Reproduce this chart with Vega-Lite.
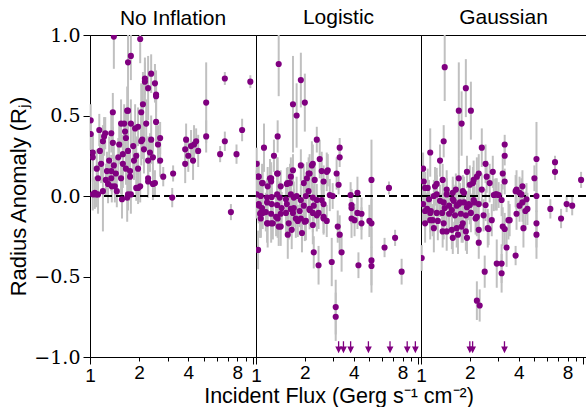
{
  "$schema": "https://vega.github.io/schema/vega-lite/v6.json",
  "padding": {"left": 7, "top": 6, "right": 0, "bottom": 0},
  "bounds": "flush",
  "spacing": 0,
  "config": {
    "view": {"stroke": "black", "strokeWidth": 1},
    "axis": {"grid": false, "domainColor": "black", "tickColor": "black", "labelColor": "black", "titleColor": "black", "titleFontWeight": "normal"},
    "title": {"font": "Liberation Sans", "fontSize": 21, "fontWeight": "normal", "color": "black"}
  },
  "datasets": {
    "noinf": [
      {"x":1.40,"y":0.99,"e":0.2},{"x":2.03,"y":0.975,"e":0.15},{"x":1.78,"y":0.87,"e":0.15},{"x":1.71,"y":0.83,"e":0.2},
      {"x":2.37,"y":0.76,"e":0.12},{"x":2.17,"y":0.73,"e":0.1},{"x":2.17,"y":0.71,"e":0.15},{"x":2.27,"y":0.67,"e":0.2},
      {"x":2.50,"y":0.70,"e":0.12},{"x":2.54,"y":0.63,"e":0.15},{"x":2.54,"y":0.62,"e":0.1},{"x":2.11,"y":0.57,"e":0.2},
      {"x":2.54,"y":0.46,"e":0.15},{"x":1.71,"y":0.53,"e":0.15},{"x":1.38,"y":0.52,"e":0.12},{"x":2.06,"y":0.52,"e":0.18},
      {"x":5.15,"y":0.58,"e":0.25},{"x":6.7,"y":0.73,"e":0.04},{"x":9.6,"y":0.71,"e":0.04},{"x":8.55,"y":0.41,"e":0.07},
      {"x":6.7,"y":0.34,"e":0.06},{"x":5.15,"y":0.37,"e":0.1},{"x":3.88,"y":0.35,"e":0.1},{"x":4.34,"y":0.32,"e":0.12},
      {"x":4.47,"y":0.34,"e":0.08},{"x":4.16,"y":0.31,"e":0.1},{"x":3.83,"y":0.29,"e":0.08},{"x":4.0,"y":0.25,"e":0.1},
      {"x":3.83,"y":0.20,"e":0.12},{"x":4.6,"y":0.28,"e":0.1},{"x":4.28,"y":0.22,"e":0.12},{"x":6.27,"y":0.26,"e":0.05},
      {"x":7.9,"y":0.26,"e":0.06},{"x":3.23,"y":0.14,"e":0.05},{"x":2.81,"y":0.12,"e":0.06},{"x":3.19,"y":-0.01,"e":0.06},
      {"x":7.3,"y":-0.10,"e":0.05},{"x":1.92,"y":0.05,"e":0.08},{"x":1.57,"y":-0.02,"e":0.12},{"x":1.69,"y":-0.01,"e":0.15},
      {"x":1.78,"y":0.01,"e":0.12},{"x":1.20,"y":0.03,"e":0.25},{"x":1.04,"y":0.01,"e":0.1},{"x":1.09,"y":0.01,"e":0.08},
      {"x":2.27,"y":0.09,"e":0.1},{"x":2.43,"y":0.075,"e":0.1},{"x":1.01,"y":0.47,"e":0.1},{"x":1.01,"y":0.385,"e":0.1},
      {"x":1.04,"y":0.27,"e":0.12},{"x":1.04,"y":0.24,"e":0.15},{"x":1.07,"y":0.02,"e":0.1},{"x":1.12,"y":0.01,"e":0.12},
      {"x":1.14,"y":0.41,"e":0.1},{"x":1.10,"y":0.17,"e":0.12},{"x":1.12,"y":0.11,"e":0.1},{"x":1.17,"y":0.20,"e":0.12},
      {"x":1.20,"y":0.34,"e":0.1},{"x":1.22,"y":0.37,"e":0.12},{"x":1.24,"y":0.39,"e":0.1},{"x":1.25,"y":0.10,"e":0.1},
      {"x":1.27,"y":0.155,"e":0.12},{"x":1.31,"y":0.22,"e":0.15},{"x":1.35,"y":0.155,"e":0.1},{"x":1.35,"y":0.39,"e":0.12},
      {"x":1.38,"y":0.33,"e":0.1},{"x":1.40,"y":0.19,"e":0.12},{"x":1.35,"y":0.11,"e":0.08},{"x":1.36,"y":0.06,"e":0.1},
      {"x":1.42,"y":0.06,"e":0.1},{"x":1.44,"y":0.14,"e":0.1},{"x":1.49,"y":0.24,"e":0.12},{"x":1.55,"y":0.45,"e":0.15},
      {"x":1.62,"y":0.45,"e":0.12},{"x":1.59,"y":0.26,"e":0.12},{"x":1.55,"y":0.11,"e":0.1},{"x":1.59,"y":0.20,"e":0.15},
      {"x":1.64,"y":0.40,"e":0.12},{"x":1.66,"y":0.36,"e":0.15},{"x":1.69,"y":0.53,"e":0.15},{"x":1.71,"y":0.28,"e":0.15},
      {"x":1.66,"y":0.17,"e":0.1},{"x":1.76,"y":0.155,"e":0.12},{"x":1.78,"y":0.45,"e":0.15},{"x":1.84,"y":0.31,"e":0.15},
      {"x":1.89,"y":0.42,"e":0.15},{"x":1.97,"y":0.43,"e":0.12},{"x":1.92,"y":0.25,"e":0.12},{"x":1.97,"y":0.17,"e":0.1},
      {"x":2.03,"y":0.06,"e":0.1},{"x":2.06,"y":0.34,"e":0.15},{"x":2.09,"y":0.35,"e":0.12},{"x":2.14,"y":0.29,"e":0.15},
      {"x":2.21,"y":0.45,"e":0.15},{"x":2.27,"y":0.22,"e":0.15},{"x":2.33,"y":0.27,"e":0.12},{"x":2.37,"y":0.35,"e":0.15},
      {"x":2.43,"y":0.24,"e":0.12},{"x":2.27,"y":0.11,"e":0.1},{"x":2.50,"y":0.08,"e":0.08},{"x":2.61,"y":0.32,"e":0.12},
      {"x":2.69,"y":0.36,"e":0.1},{"x":2.69,"y":0.22,"e":0.1},{"x":1.29,"y":0.075,"e":0.12},{"x":1.71,"y":0.01,"e":0.1},
      {"x":1.97,"y":0.05,"e":0.1},{"x":1.76,"y":0.12,"e":0.15},{"x":1.46,"y":0.03,"e":0.1},{"x":1.15,"y":0.28,"e":0.12},
      {"x":1.51,"y":0.32,"e":0.12},{"x":1.86,"y":0.22,"e":0.12}
    ],
    "logi": [
      {"x":1.38,"y":0.82,"e":0.2},{"x":1.89,"y":0.72,"e":0.17},{"x":1.69,"y":0.57,"e":0.3},{"x":2.00,"y":0.58,"e":0.18},
      {"x":1.78,"y":0.50,"e":0.2},{"x":1.36,"y":0.37,"e":0.1},{"x":1.12,"y":0.30,"e":0.15},{"x":2.37,"y":0.35,"e":0.08},
      {"x":3.28,"y":0.30,"e":0.06},{"x":3.28,"y":0.24,"e":0.06},{"x":1.29,"y":0.25,"e":0.1},{"x":2.47,"y":0.23,"e":0.12},
      {"x":1.89,"y":0.19,"e":0.1},{"x":2.24,"y":0.20,"e":0.12},{"x":1.69,"y":0.16,"e":0.1},{"x":2.54,"y":0.155,"e":0.12},
      {"x":2.77,"y":0.16,"e":0.1},{"x":3.14,"y":0.14,"e":0.1},{"x":5.15,"y":0.10,"e":0.25},{"x":6.6,"y":0.05,"e":0.04},
      {"x":1.36,"y":0.14,"e":0.1},{"x":1.24,"y":0.11,"e":0.1},{"x":1.03,"y":0.12,"e":0.08},{"x":1.01,"y":0.20,"e":0.1},
      {"x":1.64,"y":0.12,"e":0.12},{"x":2.06,"y":0.11,"e":0.1},{"x":2.14,"y":0.14,"e":0.12},{"x":2.61,"y":0.09,"e":0.1},
      {"x":3.23,"y":0.07,"e":0.06},{"x":1.18,"y":0.06,"e":0.12},{"x":1.42,"y":0.06,"e":0.1},{"x":1.57,"y":0.08,"e":0.1},
      {"x":3.83,"y":0.006,"e":0.08},{"x":4.22,"y":0.02,"e":0.1},{"x":1.09,"y":0.08,"e":0.12},{"x":2.85,"y":0.006,"e":0.1},
      {"x":2.97,"y":0.0,"e":0.08},{"x":3.88,"y":-0.056,"e":0.1},{"x":3.88,"y":-0.075,"e":0.1},{"x":4.22,"y":-0.105,"e":0.1},
      {"x":4.47,"y":-0.11,"e":0.1},{"x":3.88,"y":-0.14,"e":0.12},{"x":4.05,"y":-0.15,"e":0.1},{"x":4.47,"y":-0.17,"e":0.1},
      {"x":5.0,"y":-0.155,"e":0.1},{"x":5.15,"y":-0.17,"e":0.15},{"x":3.19,"y":-0.19,"e":0.1},{"x":3.28,"y":-0.24,"e":0.12},
      {"x":3.37,"y":-0.35,"e":0.12},{"x":2.93,"y":-0.41,"e":0.15},{"x":2.27,"y":-0.35,"e":0.1},{"x":2.43,"y":-0.43,"e":0.12},
      {"x":3.10,"y":-0.69,"e":0.17},{"x":3.10,"y":-0.75,"e":0.15},{"x":4.28,"y":-0.43,"e":0.08},{"x":5.15,"y":-0.40,"e":0.2},
      {"x":5.15,"y":-0.435,"e":0.12},{"x":6.2,"y":-0.32,"e":0.06},{"x":7.2,"y":-0.26,"e":0.05},{"x":7.9,"y":-0.47,"e":0.08},
      {"x":1.03,"y":-0.335,"e":0.12},{"x":1.92,"y":-0.23,"e":0.12},{"x":2.24,"y":-0.18,"e":0.12},{"x":1.57,"y":-0.24,"e":0.15},
      {"x":1.38,"y":-0.19,"e":0.12},{"x":1.18,"y":-0.17,"e":0.15},{"x":1.24,"y":-0.17,"e":0.12},{"x":1.06,"y":-0.11,"e":0.15},
      {"x":1.10,"y":-0.105,"e":0.1},{"x":1.66,"y":-0.21,"e":0.12},{"x":1.81,"y":-0.155,"e":0.1},{"x":2.00,"y":-0.16,"e":0.12},
      {"x":2.61,"y":-0.13,"e":0.1},{"x":2.73,"y":-0.155,"e":0.1},{"x":2.14,"y":-0.087,"e":0.12},{"x":2.37,"y":-0.12,"e":0.1},
      {"x":1.36,"y":-0.14,"e":0.12},{"x":1.04,"y":-0.05,"e":0.12},{"x":1.04,"y":0.12,"e":0.1},{"x":1.10,"y":0.08,"e":0.1},
      {"x":1.22,"y":0.11,"e":0.12},{"x":1.24,"y":0.09,"e":0.1},{"x":1.35,"y":0.14,"e":0.1},{"x":1.55,"y":0.075,"e":0.1},
      {"x":1.62,"y":0.08,"e":0.12},{"x":1.97,"y":0.08,"e":0.12},{"x":2.11,"y":0.14,"e":0.1},{"x":2.21,"y":0.19,"e":0.15},
      {"x":2.30,"y":0.10,"e":0.1},{"x":2.73,"y":0.15,"e":0.12},{"x":1.01,"y":0.01,"e":0.15},{"x":1.07,"y":0.0,"e":0.1},
      {"x":1.17,"y":-0.01,"e":0.12},{"x":1.25,"y":-0.006,"e":0.1},{"x":1.35,"y":0.01,"e":0.12},{"x":1.40,"y":-0.01,"e":0.1},
      {"x":1.53,"y":-0.02,"e":0.12},{"x":1.64,"y":0.01,"e":0.12},{"x":1.71,"y":-0.01,"e":0.1},{"x":1.78,"y":0.0,"e":0.12},
      {"x":1.89,"y":-0.025,"e":0.1},{"x":2.03,"y":0.0,"e":0.1},{"x":2.11,"y":0.03,"e":0.12},{"x":2.24,"y":-0.01,"e":0.1},
      {"x":2.37,"y":-0.025,"e":0.1},{"x":2.54,"y":-0.025,"e":0.12},{"x":1.04,"y":-0.06,"e":0.1},{"x":1.09,"y":-0.075,"e":0.12},
      {"x":1.17,"y":-0.04,"e":0.1},{"x":1.25,"y":-0.05,"e":0.1},{"x":1.35,"y":-0.056,"e":0.12},{"x":1.44,"y":-0.075,"e":0.1},
      {"x":1.55,"y":-0.05,"e":0.12},{"x":1.64,"y":-0.08,"e":0.1},{"x":1.71,"y":-0.075,"e":0.12},{"x":1.86,"y":-0.093,"e":0.1},
      {"x":1.97,"y":-0.06,"e":0.12},{"x":2.14,"y":-0.08,"e":0.1},{"x":2.27,"y":-0.06,"e":0.12},{"x":2.43,"y":-0.105,"e":0.1},
      {"x":2.61,"y":-0.05,"e":0.12},{"x":1.07,"y":-0.105,"e":0.15},{"x":1.15,"y":-0.10,"e":0.12},{"x":1.24,"y":-0.11,"e":0.1},
      {"x":1.33,"y":-0.13,"e":0.12},{"x":1.42,"y":-0.11,"e":0.1},{"x":1.53,"y":-0.105,"e":0.12},{"x":1.69,"y":-0.105,"e":0.1},
      {"x":1.76,"y":-0.14,"e":0.12},{"x":1.89,"y":-0.14,"e":0.1},{"x":2.03,"y":-0.155,"e":0.12},{"x":2.24,"y":-0.105,"e":0.12},
      {"x":1.07,"y":-0.14,"e":0.12},{"x":1.17,"y":-0.17,"e":0.12},{"x":1.27,"y":-0.17,"e":0.1},{"x":1.42,"y":-0.19,"e":0.12},
      {"x":1.59,"y":-0.17,"e":0.1},{"x":2.61,"y":-0.14,"e":0.1}
    ],
    "gaus": [
      {"x":1.40,"y":0.80,"e":0.21},{"x":1.89,"y":0.67,"e":0.18},{"x":1.71,"y":0.53,"e":0.3},{"x":2.03,"y":0.53,"e":0.18},
      {"x":1.78,"y":0.45,"e":0.2},{"x":1.38,"y":0.34,"e":0.1},{"x":1.14,"y":0.27,"e":0.15},{"x":1.31,"y":0.22,"e":0.1},
      {"x":2.37,"y":0.30,"e":0.12},{"x":3.28,"y":0.32,"e":0.06},{"x":3.28,"y":0.25,"e":0.06},{"x":2.50,"y":0.20,"e":0.12},
      {"x":1.92,"y":0.15,"e":0.1},{"x":2.27,"y":0.14,"e":0.12},{"x":2.77,"y":0.15,"e":0.1},{"x":3.19,"y":0.14,"e":0.1},
      {"x":5.15,"y":0.23,"e":0.23},{"x":6.7,"y":0.21,"e":0.04},{"x":6.7,"y":0.15,"e":0.05},{"x":9.7,"y":0.10,"e":0.05},
      {"x":5.0,"y":0.11,"e":0.08},{"x":1.03,"y":0.17,"e":0.1},{"x":1.04,"y":0.09,"e":0.1},{"x":1.10,"y":0.05,"e":0.12},
      {"x":1.25,"y":0.075,"e":0.1},{"x":1.25,"y":0.01,"e":0.12},{"x":1.36,"y":0.10,"e":0.1},{"x":1.44,"y":0.04,"e":0.12},
      {"x":1.57,"y":0.02,"e":0.1},{"x":1.64,"y":0.04,"e":0.1},{"x":1.71,"y":0.11,"e":0.12},{"x":1.84,"y":0.02,"e":0.1},
      {"x":2.00,"y":0.07,"e":0.12},{"x":2.09,"y":0.08,"e":0.1},{"x":2.21,"y":0.12,"e":0.12},{"x":2.37,"y":0.04,"e":0.1},
      {"x":2.54,"y":0.12,"e":0.1},{"x":2.65,"y":0.08,"e":0.12},{"x":2.93,"y":0.01,"e":0.1},{"x":3.01,"y":0.006,"e":0.08},
      {"x":3.28,"y":0.09,"e":0.08},{"x":3.88,"y":0.04,"e":0.12},{"x":4.05,"y":0.02,"e":0.1},{"x":4.22,"y":0.06,"e":0.1},
      {"x":1.01,"y":-0.385,"e":0.08},{"x":2.21,"y":-0.65,"e":0.12},{"x":2.30,"y":-0.68,"e":0.1},{"x":2.47,"y":-0.47,"e":0.1},
      {"x":2.93,"y":-0.42,"e":0.15},{"x":3.14,"y":-0.42,"e":0.12},{"x":3.14,"y":-0.48,"e":0.12},{"x":3.37,"y":-0.32,"e":0.12},
      {"x":3.83,"y":-0.37,"e":0.06},{"x":2.27,"y":-0.29,"e":0.1},{"x":2.27,"y":-0.21,"e":0.1},{"x":3.19,"y":-0.19,"e":0.12},
      {"x":3.28,"y":-0.205,"e":0.1},{"x":3.46,"y":-0.15,"e":0.12},{"x":2.58,"y":-0.20,"e":0.12},{"x":2.73,"y":-0.15,"e":0.1},
      {"x":2.43,"y":-0.12,"e":0.1},{"x":2.21,"y":-0.13,"e":0.12},{"x":1.92,"y":-0.26,"e":0.1},{"x":1.81,"y":-0.17,"e":0.12},
      {"x":1.69,"y":-0.24,"e":0.12},{"x":1.57,"y":-0.26,"e":0.1},{"x":1.44,"y":-0.22,"e":0.12},{"x":1.36,"y":-0.22,"e":0.1},
      {"x":1.20,"y":-0.20,"e":0.15},{"x":1.06,"y":-0.17,"e":0.12},{"x":1.14,"y":-0.15,"e":0.12},{"x":1.18,"y":-0.15,"e":0.1},
      {"x":5.15,"y":-0.17,"e":0.15},{"x":5.15,"y":-0.24,"e":0.15},{"x":4.28,"y":-0.20,"e":0.12},{"x":3.88,"y":-0.11,"e":0.1},
      {"x":4.4,"y":-0.093,"e":0.12},{"x":4.53,"y":-0.08,"e":0.1},{"x":4.05,"y":-0.06,"e":0.1},{"x":4.22,"y":-0.04,"e":0.12},
      {"x":4.47,"y":-0.02,"e":0.1},{"x":4.16,"y":0.01,"e":0.1},{"x":5.15,"y":0.0,"e":0.1},{"x":6.27,"y":-0.08,"e":0.06},
      {"x":7.3,"y":-0.14,"e":0.06},{"x":7.9,"y":-0.05,"e":0.05},{"x":8.55,"y":-0.06,"e":0.06},{"x":2.81,"y":0.006,"e":0.1},
      {"x":3.14,"y":-0.025,"e":0.1},{"x":1.03,"y":-0.05,"e":0.12},{"x":1.09,"y":-0.08,"e":0.1},{"x":1.14,"y":-0.105,"e":0.12},
      {"x":1.25,"y":-0.105,"e":0.1},{"x":1.35,"y":-0.105,"e":0.12},{"x":1.40,"y":-0.075,"e":0.1},{"x":1.55,"y":-0.087,"e":0.12},
      {"x":1.66,"y":-0.06,"e":0.1},{"x":1.74,"y":-0.04,"e":0.12},{"x":1.92,"y":-0.07,"e":0.1},{"x":2.00,"y":-0.056,"e":0.12},
      {"x":2.14,"y":-0.04,"e":0.1},{"x":1.57,"y":-0.02,"e":0.12},{"x":1.81,"y":0.03,"e":0.1},{"x":1.31,"y":-0.03,"e":0.1},
      {"x":1.44,"y":0.01,"e":0.1},{"x":1.22,"y":0.06,"e":0.12},{"x":1.06,"y":0.05,"e":0.1},{"x":2.11,"y":0.10,"e":0.12},
      {"x":1.12,"y":-0.02,"e":0.12},{"x":1.20,"y":0.0,"e":0.1},{"x":1.38,"y":-0.04,"e":0.12},{"x":1.49,"y":-0.06,"e":0.1},
      {"x":1.59,"y":-0.03,"e":0.1},{"x":1.71,"y":-0.05,"e":0.12},{"x":1.84,"y":-0.04,"e":0.1},{"x":1.97,"y":-0.05,"e":0.1},
      {"x":2.11,"y":-0.025,"e":0.12},{"x":2.27,"y":-0.05,"e":0.1},{"x":2.50,"y":-0.056,"e":0.1},{"x":2.88,"y":0.01,"e":0.1},
      {"x":3.83,"y":0.03,"e":0.1},{"x":1.06,"y":-0.093,"e":0.12},{"x":1.15,"y":-0.093,"e":0.1},{"x":1.49,"y":-0.11,"e":0.12},
      {"x":1.62,"y":-0.12,"e":0.1},{"x":1.76,"y":-0.11,"e":0.12},{"x":1.89,"y":-0.12,"e":0.1},{"x":2.03,"y":-0.105,"e":0.12},
      {"x":2.17,"y":-0.14,"e":0.1},{"x":1.27,"y":-0.155,"e":0.12},{"x":1.38,"y":-0.17,"e":0.1},{"x":1.55,"y":-0.21,"e":0.12},
      {"x":1.66,"y":-0.20,"e":0.12},{"x":1.78,"y":-0.19,"e":0.1},{"x":1.89,"y":-0.22,"e":0.12},{"x":2.61,"y":-0.205,"e":0.1},
      {"x":3.52,"y":-0.15,"e":0.1}
    ],
    "arrLogi": [{"x":3.23},{"x":3.46},{"x":3.83},{"x":4.93},{"x":6.7},{"x":8.55},{"x":9.6}],
    "arrGaus": [{"x":2.0},{"x":2.08},{"x":3.27}]
  },
  "hconcat": [
    {
      "width": 166, "height": 322,
      "title": {"text": "No Inflation", "frame": "group", "offset": -3},
      "encoding": {
        "x": {"field": "x", "type": "quantitative", "scale": {"type": "log", "domain": [1, 10.4], "nice": false},
          "axis": {"values": [1,2,3,4,5,6,7,8,9,10], "labelExpr": "datum.value==1||datum.value==2||datum.value==4||datum.value==8 ? format(datum.value,'d') : ''",
            "labelFont": "Liberation Sans", "labelFontSize": 19, "labelFlush": false, "labelOverlap": false, "labelPadding": 2,
            "tickSize": {"condition": {"test": "datum.value==1||datum.value==10", "value": 7}, "value": 4}, "title": null}},
        "y": {"field": "y", "type": "quantitative", "scale": {"domain": [-1, 1], "nice": false, "zero": false, "clamp": true},
          "axis": {"values": [-1,-0.5,0,0.5,1], "format": ".1f", "title": "Radius Anomaly (Rⱼ)", "labelFont": "DejaVu Serif", "labelFontSize": 19,
            "titleFont": "Liberation Sans", "titleFontSize": 22, "tickSize": 7, "labelPadding": 3, "titlePadding": 3}}
      },
      "layer": [
        {"data": {"name": "noinf"}, "mark": {"type": "errorbar", "color": "#c0c0c0", "thickness": 2}, "encoding": {"yError": {"field": "e"}}},
        {"data": {"name": "noinf"}, "mark": {"type": "rule", "color": "black", "strokeWidth": 2, "strokeDash": [8, 4]}, "encoding": {"y": {"datum": 0}, "x": null}},
        {"data": {"name": "noinf"}, "mark": {"type": "circle", "color": "#800080", "opacity": 1, "size": 38, "clip": true}}
      ]
    },
    {
      "width": 165, "height": 322,
      "title": {"text": "Logistic", "frame": "group", "offset": 6},
      "layer": [
        {"data": {"name": "logi"}, "mark": {"type": "errorbar", "color": "#c0c0c0", "thickness": 2},
          "encoding": {
            "x": {"field": "x", "type": "quantitative", "scale": {"type": "log", "domain": [1, 10.4], "nice": false},
              "axis": {"values": [1,2,3,4,5,6,7,8,9,10], "labelExpr": "datum.value==1||datum.value==2||datum.value==4||datum.value==8 ? format(datum.value,'d') : ''",
                "labelFont": "Liberation Sans", "labelFontSize": 19, "labelFlush": false, "labelOverlap": false, "labelPadding": 2,
                "tickSize": {"condition": {"test": "datum.value==1||datum.value==10", "value": 7}, "value": 4},
                "title": "Incident Flux (Gerg s⁻¹ cm⁻²)", "titleFont": "Liberation Sans", "titleFontSize": 21.5, "titlePadding": 0}},
            "y": {"field": "y", "type": "quantitative", "scale": {"domain": [-1, 1], "nice": false, "zero": false, "clamp": true}, "axis": null},
            "yError": {"field": "e"}}},
        {"data": {"name": "logi"}, "mark": {"type": "rule", "color": "black", "strokeWidth": 2, "strokeDash": [8, 4]}, "encoding": {"y": {"datum": 0}}},
        {"data": {"name": "logi"}, "mark": {"type": "circle", "color": "#800080", "opacity": 1, "size": 38, "clip": true},
          "encoding": {"x": {"field": "x", "type": "quantitative"}, "y": {"field": "y", "type": "quantitative"}}},
        {"data": {"name": "arrLogi"}, "mark": {"type": "point", "shape": "M0,-1L0,0.1M-0.45,0.1L0,1L0.45,0.1Z", "color": "#800080", "stroke": "#800080", "strokeWidth": 1.3, "opacity": 1, "size": 110, "filled": true},
          "encoding": {"x": {"field": "x", "type": "quantitative"}, "y": {"datum": -0.935}}}
      ]
    },
    {
      "width": 165, "height": 322,
      "title": {"text": "Gaussian", "frame": "group", "offset": 6},
      "layer": [
        {"data": {"name": "gaus"}, "mark": {"type": "errorbar", "color": "#c0c0c0", "thickness": 2},
          "encoding": {
            "x": {"field": "x", "type": "quantitative", "scale": {"type": "log", "domain": [1, 10.4], "nice": false},
              "axis": {"values": [1,2,3,4,5,6,7,8,9,10], "labelExpr": "datum.value==1||datum.value==2||datum.value==4||datum.value==8 ? format(datum.value,'d') : ''",
                "labelFont": "Liberation Sans", "labelFontSize": 19, "labelFlush": false, "labelOverlap": false, "labelPadding": 2,
                "tickSize": {"condition": {"test": "datum.value==1||datum.value==10", "value": 7}, "value": 4}, "title": null}},
            "y": {"field": "y", "type": "quantitative", "scale": {"domain": [-1, 1], "nice": false, "zero": false, "clamp": true}, "axis": null},
            "yError": {"field": "e"}}},
        {"data": {"name": "gaus"}, "mark": {"type": "rule", "color": "black", "strokeWidth": 2, "strokeDash": [8, 4]}, "encoding": {"y": {"datum": 0}}},
        {"data": {"name": "gaus"}, "mark": {"type": "circle", "color": "#800080", "opacity": 1, "size": 38, "clip": true},
          "encoding": {"x": {"field": "x", "type": "quantitative"}, "y": {"field": "y", "type": "quantitative"}}},
        {"data": {"name": "arrGaus"}, "mark": {"type": "point", "shape": "M0,-1L0,0.1M-0.45,0.1L0,1L0.45,0.1Z", "color": "#800080", "stroke": "#800080", "strokeWidth": 1.3, "opacity": 1, "size": 110, "filled": true},
          "encoding": {"x": {"field": "x", "type": "quantitative"}, "y": {"datum": -0.935}}}
      ]
    }
  ]
}
